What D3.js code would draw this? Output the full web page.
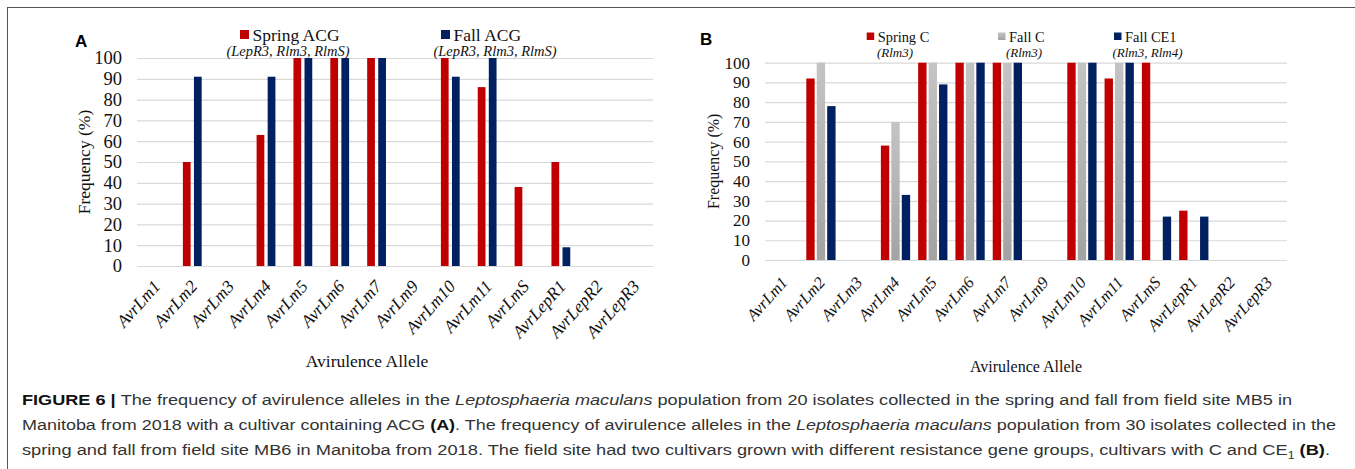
<!DOCTYPE html>
<html>
<head>
<meta charset="utf-8">
<script src="https://cdn.jsdelivr.net/npm/d3@7"></script>
<style>
  html, body { margin: 0; padding: 0; background: #fff; }
  svg { display: block; }
</style>
</head>
<body>
<svg id="fig" width="1355" height="469"></svg>
<script>
// Avirulence alleles on the x axis (shared by both panels)
const categories = ["AvrLm1", "AvrLm2", "AvrLm3", "AvrLm4", "AvrLm5", "AvrLm6", "AvrLm7",
  "AvrLm9", "AvrLm10", "AvrLm11", "AvrLmS", "AvrLepR1", "AvrLepR2", "AvrLepR3"];

// Panel A: site MB5, cultivar with ACG
const springACG = [0, 50, 0, 63, 100, 100, 100, 0, 100, 86, 38, 50, 0, 0];
const fallACG   = [0, 91, 0, 91, 100, 100, 100, 0, 91, 100, 0, 9, 0, 0];

// Panel B: site MB6, cultivars with C and CE1
const springC = [0, 92, 0, 58, 100, 100, 100, 0, 100, 92, 100, 25, 0, 0];
const fallC   = [0, 100, 0, 70, 100, 100, 100, 0, 100, 100, 0, 0, 0, 0];
const fallCE1 = [0, 78, 0, 33, 89, 100, 100, 0, 100, 100, 22, 22, 0, 0];

const yTicks = [0, 10, 20, 30, 40, 50, 60, 70, 80, 90, 100];

const SERIF = "'Liberation Serif', 'Times New Roman', serif";
const SANS = "'Liberation Sans', Arial, Helvetica, sans-serif";
const RED = "#c00000", NAVY = "#002060";

const svg = d3.select("#fig");
svg.append("rect").attr("width", 1355).attr("height", 469).attr("fill", "#fff");

// light-grey gradient fill used for the "Fall C" series
const defs = svg.append("defs");
const grad = defs.append("linearGradient").attr("id", "greyFill")
  .attr("x1", 0).attr("y1", 0).attr("x2", 0).attr("y2", 1);
grad.append("stop").attr("offset", "0%").attr("stop-color", "#c4c4c4");
grad.append("stop").attr("offset", "100%").attr("stop-color", "#a3a3a3");

// outer frame
svg.append("rect").attr("x", 7.5).attr("y", 7.5).attr("width", 1360).attr("height", 480)
  .attr("fill", "none").attr("stroke", "#555").attr("stroke-width", 1);

function drawPanel(p) {
  const g = svg.append("g");
  const x = d3.scaleBand().domain(categories).range([p.x0, p.x1])
    .paddingInner(p.groupPad).paddingOuter(p.groupPad / 2);
  const xs = d3.scaleBand().domain(p.series.map(s => s.name))
    .range([0, x.bandwidth()]).paddingInner(p.barPad);
  const y = d3.scaleLinear().domain([0, 100]).range([p.yBottom, p.yTop]);

  // gridlines + value labels
  const yAxis = d3.axisLeft(y).tickValues(yTicks).tickSize(-(p.x1 - p.x0)).tickPadding(15);
  const ya = g.append("g").attr("transform", `translate(${p.x0},0)`).call(yAxis);
  ya.select(".domain").remove();
  ya.selectAll(".tick line").attr("stroke", "#d9d9d9").attr("stroke-width", 1.2);
  ya.selectAll(".tick text").style("font-family", SERIF).style("font-size", p.tickFont + "px")
    .attr("fill", "#111");

  // bars
  p.series.forEach(s => {
    g.append("g").selectAll("rect").data(s.values).join("rect")
      .attr("x", (d, i) => x(categories[i]) + xs(s.name))
      .attr("width", xs.bandwidth())
      .attr("y", d => y(d))
      .attr("height", d => y(0) - y(d))
      .attr("fill", s.color);
  });

  // category labels
  const xAxis = d3.axisBottom(x).tickSize(0);
  const xa = g.append("g").attr("transform", `translate(0,${p.yBottom})`).call(xAxis);
  xa.select(".domain").remove();
  xa.selectAll(".tick text")
    .style("font-family", SERIF).style("font-style", "italic").style("font-size", p.catFont + "px")
    .attr("fill", "#111")
    .attr("x", 0).attr("y", 0).attr("dy", 0)
    .attr("text-anchor", "end")
    .attr("transform", `translate(${p.catDx},${p.catDy}) rotate(-48)`);

  // axis titles
  g.append("text").attr("transform", `translate(${p.yTitleX},${(p.yTop + p.yBottom) / 2}) rotate(-90)`)
    .attr("text-anchor", "middle").attr("dominant-baseline", "middle")
    .attr("font-family", SERIF).attr("font-size", p.titleFont).attr("fill", "#111")
    .text("Frequency (%)");
  g.append("text").attr("x", p.xTitleX).attr("y", p.xTitleY).attr("text-anchor", "middle")
    .attr("font-family", SERIF).attr("font-size", p.titleFont).attr("fill", "#111")
    .text("Avirulence Allele");

  // panel letter
  g.append("text").attr("x", p.letterX).attr("y", p.letterY)
    .attr("font-family", SANS).attr("font-weight", "bold").attr("font-size", 17)
    .attr("fill", "#000").text(p.letter);

  // legend entries with resistance genes underneath
  p.series.forEach(s => {
    const lg = g.append("g");
    lg.append("rect").attr("x", s.lx).attr("y", p.legY - p.legSq - 2)
      .attr("width", p.legSq).attr("height", p.legSq).attr("fill", s.color);
    lg.append("text").attr("x", s.lx + p.legSq + 3.5).attr("y", p.legY)
      .attr("font-family", SERIF).attr("font-size", p.legFont).attr("fill", "#111")
      .text(s.name);
    lg.append("text").attr("x", s.subX).attr("y", p.subY).attr("text-anchor", "middle")
      .attr("font-family", SERIF).attr("font-style", "italic").attr("font-size", p.subFont)
      .attr("fill", "#111").text(s.genes);
  });
}

drawPanel({
  letter: "A", letterX: 75, letterY: 47,
  x0: 137, x1: 653, yTop: 58, yBottom: 266,
  groupPad: 0.49, barPad: 0.3,
  tickFont: 18.5, catFont: 17.5, titleFont: 17.5,
  catDx: 6, catDy: 21,
  yTitleX: 86, xTitleX: 367, xTitleY: 367,
  legY: 41, legSq: 9, legFont: 17.5, subY: 56, subFont: 14.5,
  series: [
    { name: "Spring ACG", values: springACG, color: RED, lx: 240, subX: 288, genes: "(LepR3, Rlm3, RlmS)" },
    { name: "Fall ACG", values: fallACG, color: NAVY, lx: 441, subX: 495, genes: "(LepR3, Rlm3, RlmS)" }
  ]
});

drawPanel({
  letter: "B", letterX: 700, letterY: 45,
  x0: 765, x1: 1287, yTop: 62.7, yBottom: 260,
  groupPad: 0.215, barPad: 0.2,
  tickFont: 17, catFont: 16.5, titleFont: 16,
  catDx: 5, catDy: 23,
  yTitleX: 715, xTitleX: 1026, xTitleY: 372,
  legY: 42, legSq: 7.5, legFont: 14.4, subY: 56.5, subFont: 13,
  series: [
    { name: "Spring C", values: springC, color: RED, lx: 866.7, subX: 895, genes: "(Rlm3)" },
    { name: "Fall C", values: fallC, color: "url(#greyFill)", lx: 998, subX: 1024, genes: "(Rlm3)" },
    { name: "Fall CE1", values: fallCE1, color: NAVY, lx: 1114, subX: 1147.5, genes: "(Rlm3, Rlm4)" }
  ]
});

// figure caption
const cap = svg.append("g").attr("font-family", SANS).attr("font-size", 15.5).attr("fill", "#333");
const lines = [
  { y: 405, len: 1270, parts: [
    { t: "FIGURE 6 | ", w: "bold", c: "#111" },
    { t: "The frequency of avirulence alleles in the " },
    { t: "Leptosphaeria maculans", s: "italic" },
    { t: " population from 20 isolates collected in the spring and fall from field site MB5 in" }] },
  { y: 430, len: 1314, parts: [
    { t: "Manitoba from 2018 with a cultivar containing ACG " },
    { t: "(A)", w: "bold", c: "#111" },
    { t: ". The frequency of avirulence alleles in the " },
    { t: "Leptosphaeria maculans", s: "italic" },
    { t: " population from 30 isolates collected in the" }] },
  { y: 454.5, len: 1308, parts: [
    { t: "spring and fall from field site MB6 in Manitoba from 2018. The field site had two cultivars grown with different resistance gene groups, cultivars with C and CE" },
    { t: "1", sub: true },
    { t: " " },
    { t: "(B)", w: "bold", c: "#111" },
    { t: "." }] }
];
lines.forEach(l => {
  const t = cap.append("text").attr("x", 22).attr("y", l.y)
    .attr("textLength", l.len).attr("lengthAdjust", "spacingAndGlyphs");
  l.parts.forEach(p => {
    const ts = t.append("tspan").text(p.t);
    if (p.w) ts.attr("font-weight", p.w);
    if (p.s) ts.attr("font-style", p.s);
    if (p.c) ts.attr("fill", p.c);
    if (p.sub) ts.attr("font-size", 10.5).attr("dy", 4);
    else if (p.t === " ") ts.attr("dy", -4);
  });
});
</script>
</body>
</html>
